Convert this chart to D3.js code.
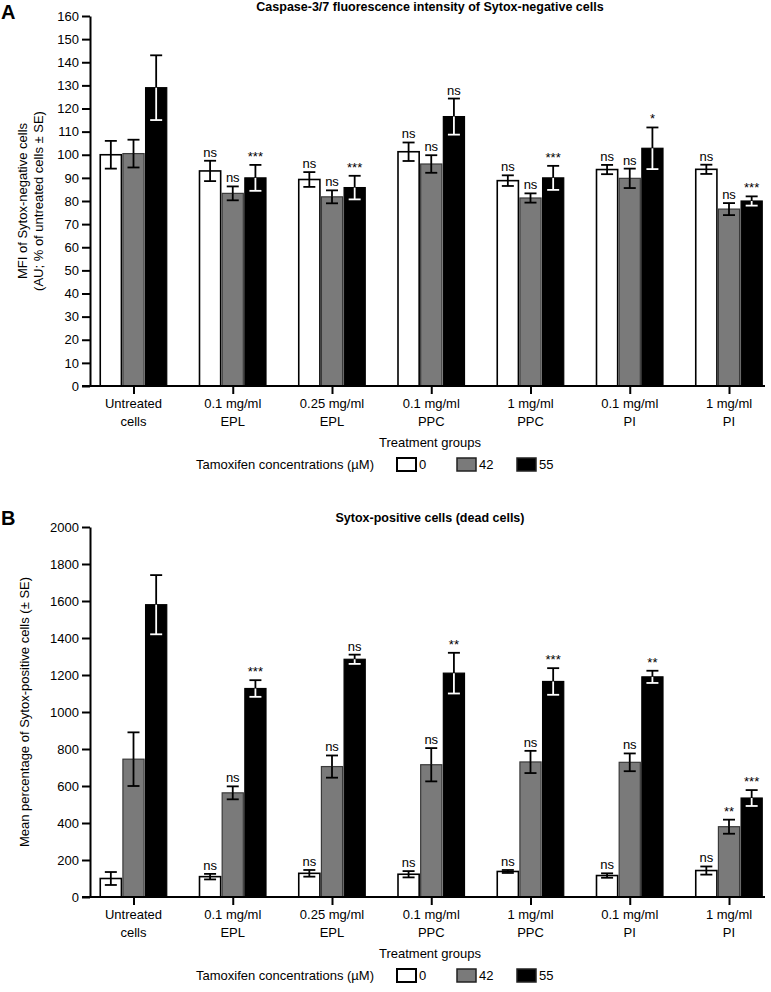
<!DOCTYPE html>
<html>
<head>
<meta charset="utf-8">
<script src="https://cdn.jsdelivr.net/npm/d3@7/dist/d3.min.js"></script>
<style>
  html, body { margin: 0; padding: 0; background: #fff; }
  svg { display: block; font-family: "Liberation Sans", Arial, Helvetica, sans-serif; }
</style>
</head>
<body>
<svg id="chart" width="771" height="992"></svg>
<script>
// ---------------- DATA ----------------
const categories = ["Untreated cells", "0.1 mg/ml EPL", "0.25 mg/ml EPL", "0.1 mg/ml PPC", "1 mg/ml PPC", "0.1 mg/ml PI", "1 mg/ml PI"];
const concentrations = ["0", "42", "55"];

// Panel A: Caspase-3/7 MFI of Sytox-negative cells (% of untreated)
const aMean0  = [100, 93, 89.3, 101.3, 88.8, 93.6, 93.7];
const aSE0    = [6, 4.4, 3.2, 4, 2.3, 2, 2];
const aMean42 = [100.5, 83.3, 81.8, 96, 81.3, 89.8, 76.5];
const aSE42   = [6, 3, 2.8, 3.8, 2, 4.2, 2.6];
const aMean55 = [129, 90, 85.8, 116.5, 90, 102.8, 80];
const aSE55   = [14, 5.6, 5.1, 7.8, 5.2, 9, 2];
const aSig0   = ["", "ns", "ns", "ns", "ns", "ns", "ns"];
const aSig42  = ["", "ns", "ns", "ns", "ns", "ns", "ns"];
const aSig55  = ["", "***", "***", "ns", "***", "*", "***"];
const aTicks  = [0, 10, 20, 30, 40, 50, 60, 70, 80, 90, 100, 110, 120, 130, 140, 150, 160];

// Panel B: Sytox-positive cells (dead cells)
const bMean0  = [100, 110, 128, 123, 138, 116, 143];
const bSE0    = [35, 15, 18, 17, 8, 12, 22];
const bMean42 = [745, 563, 705, 715, 730, 728, 380];
const bSE42   = [145, 35, 60, 90, 60, 48, 38];
const bMean55 = [1580, 1127, 1285, 1210, 1165, 1190, 535];
const bSE55   = [160, 45, 25, 110, 72, 33, 43];
const bSig0   = ["", "ns", "ns", "ns", "ns", "ns", "ns"];
const bSig42  = ["", "ns", "ns", "ns", "ns", "ns", "**"];
const bSig55  = ["", "***", "ns", "**", "***", "**", "***"];
const bTicks  = [0, 200, 400, 600, 800, 1000, 1200, 1400, 1600, 1800, 2000];

// ---------------- STYLE ----------------
const fills   = { "0": "#ffffff", "42": "#7a7a7a", "55": "#000000" };
const strokes = { "0": "#000000", "42": "#3a3a3a", "55": "#000000" };
const FS = 13;

const svg = d3.select("#chart");

function drawPanel(p) {
  const g = svg.append("g");
  const y = d3.scaleLinear().domain([0, p.yMax]).range([p.y0, p.yTop]);
  const x = d3.scalePoint().domain(categories).range([133.5, 729]);
  const xs = d3.scaleBand().domain(concentrations).range([-34, 34]).padding(0);

  const series = concentrations.map((c, k) => ({
    conc: c, mean: p.means[k], se: p.ses[k], sig: p.sigs[k]
  }));

  // bars
  series.forEach(s => {
    const gs = g.append("g");
    categories.forEach((cat, i) => {
      const bx = x(cat) + xs(s.conc);
      const bw = xs.bandwidth();
      gs.append("rect")
        .attr("x", bx + 0.75).attr("width", bw - 1.5)
        .attr("y", y(s.mean[i])).attr("height", y(0) - y(s.mean[i]))
        .attr("fill", fills[s.conc]).attr("stroke", strokes[s.conc])
        .attr("stroke-width", s.conc === "0" ? 1.6 : 1.2);
    });
  });

  // error bars
  series.forEach(s => {
    categories.forEach((cat, i) => {
      const cx = x(cat) + xs(s.conc) + xs.bandwidth() / 2;
      const m = s.mean[i], e = s.se[i];
      const lowColor = s.conc === "55" ? "#ffffff" : "#000000";
      const cw = 6;
      g.append("line").attr("x1", cx).attr("x2", cx).attr("y1", y(m)).attr("y2", y(m + e))
        .attr("stroke", "#000").attr("stroke-width", 1.8);
      g.append("line").attr("x1", cx - cw).attr("x2", cx + cw).attr("y1", y(m + e)).attr("y2", y(m + e))
        .attr("stroke", "#000").attr("stroke-width", 1.8);
      g.append("line").attr("x1", cx).attr("x2", cx).attr("y1", y(m)).attr("y2", y(m - e))
        .attr("stroke", lowColor).attr("stroke-width", 1.8);
      g.append("line").attr("x1", cx - cw).attr("x2", cx + cw).attr("y1", y(m - e)).attr("y2", y(m - e))
        .attr("stroke", lowColor).attr("stroke-width", 1.8);
      if (s.sig[i]) {
        g.append("text").attr("x", cx).attr("y", y(m + e) - 4)
          .attr("text-anchor", "middle").attr("font-size", FS).attr("fill", "#000")
          .text(s.sig[i]);
      }
    });
  });

  // y axis
  const yAxis = d3.axisLeft(y).tickValues(p.ticks).tickSize(8).tickPadding(3).tickSizeOuter(0).tickFormat(d3.format("d"));
  const ya = g.append("g").attr("transform", "translate(90,0)").call(yAxis);
  ya.select(".domain").attr("stroke", "#000").attr("stroke-width", 2);
  ya.selectAll(".tick line").attr("stroke", "#000").attr("stroke-width", 2);
  ya.selectAll(".tick text").attr("font-size", FS).attr("fill", "#000")
    .attr("font-family", "'Liberation Sans', Arial, sans-serif");

  // x axis
  const xAxis = d3.axisBottom(x).tickSize(8).tickSizeOuter(0).tickFormat("");
  const xa = g.append("g").attr("transform", `translate(0,${p.y0})`).call(xAxis);
  xa.select(".domain").attr("d", "M82,0H765").attr("stroke", "#000").attr("stroke-width", 2);
  xa.selectAll(".tick line").attr("stroke", "#000").attr("stroke-width", 2);
  categories.forEach(cat => {
    const idx = cat.lastIndexOf(" ");
    const l1 = cat.slice(0, idx), l2 = cat.slice(idx + 1);
    g.append("text").attr("x", x(cat)).attr("y", p.y0 + 22).attr("text-anchor", "middle")
      .attr("font-size", FS).text(l1);
    g.append("text").attr("x", x(cat)).attr("y", p.y0 + 40).attr("text-anchor", "middle")
      .attr("font-size", FS).text(l2);
  });
  g.append("text").attr("x", 430).attr("y", p.y0 + 61).attr("text-anchor", "middle")
    .attr("font-size", FS).text("Treatment groups");

  // legend
  const ly = p.y0 + 78;
  g.append("text").attr("x", 374).attr("y", ly + 5).attr("text-anchor", "end")
    .attr("font-size", FS).text("Tamoxifen concentrations (µM)");
  const lx = [397, 457, 517];
  concentrations.forEach((c, k) => {
    g.append("rect").attr("x", lx[k]).attr("y", ly - 6).attr("width", 19).attr("height", 13)
      .attr("fill", fills[c]).attr("stroke", c === "0" ? "#000" : "#222").attr("stroke-width", c === "0" ? 2 : 1.5);
    g.append("text").attr("x", lx[k] + 22).attr("y", ly + 5).attr("font-size", FS).text(c);
  });

  // title
  g.append("text").attr("x", 430).attr("y", p.titleY).attr("text-anchor", "middle")
    .attr("font-size", 12.5).attr("font-weight", "bold").text(p.title);
  g.append("text").attr("x", 1).attr("y", p.letterY).attr("font-size", 20).attr("font-weight", "bold").text(p.letter);

  // y label
  const ymid = (p.y0 + p.yTop) / 2;
  p.yLabel.forEach((t, k) => {
    g.append("text").attr("transform", `translate(${p.yLabelX[k]},${ymid}) rotate(-90)`)
      .attr("text-anchor", "middle").attr("font-size", FS).text(t);
  });
}

drawPanel({
  yMax: 160, y0: 386, yTop: 16, ticks: aTicks,
  means: [aMean0, aMean42, aMean55], ses: [aSE0, aSE42, aSE55], sigs: [aSig0, aSig42, aSig55],
  title: "Caspase-3/7 fluorescence intensity of Sytox-negative cells", titleY: 11,
  letter: "A", letterY: 19,
  yLabel: ["MFI of Sytox-negative cells", "(AU; % of untreated cells ± SE)"], yLabelX: [27, 43]
});

drawPanel({
  yMax: 2000, y0: 897, yTop: 527, ticks: bTicks,
  means: [bMean0, bMean42, bMean55], ses: [bSE0, bSE42, bSE55], sigs: [bSig0, bSig42, bSig55],
  title: "Sytox-positive cells (dead cells)", titleY: 522,
  letter: "B", letterY: 525,
  yLabel: ["Mean percentage of Sytox-positive cells (± SE)"], yLabelX: [29]
});
</script>
</body>
</html>
